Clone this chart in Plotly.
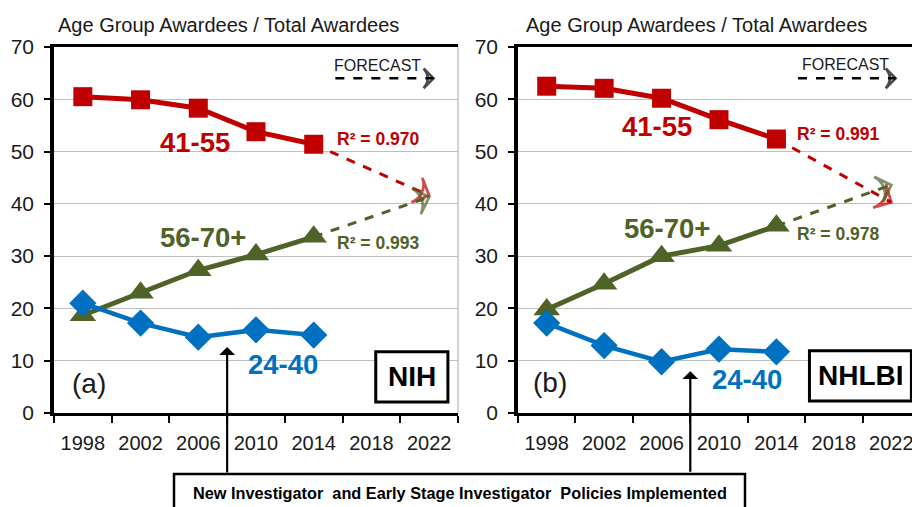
import plotly.graph_objects as go

# ---------------- data ----------------
years = [1998, 2002, 2006, 2010, 2014]
tick_years = [1998, 2002, 2006, 2010, 2014, 2018, 2022]
tick_labels = ["1998", "2002", "2006", "2010", "2014", "2018", "2022"]
boundary_years = [1996, 2000, 2004, 2008, 2012, 2016, 2020, 2024]

nih_41_55 = [60.5, 59.9, 58.3, 53.8, 51.4]
nih_56_70 = [18.7, 23.0, 27.3, 30.3, 33.7]
nih_24_40 = [21.0, 17.2, 14.5, 15.9, 14.9]

nhlbi_41_55 = [62.5, 62.1, 60.2, 56.1, 52.4]
nhlbi_56_70 = [19.8, 24.7, 30.0, 32.0, 35.8]
nhlbi_24_40 = [17.2, 12.9, 9.8, 12.2, 11.7]

forecast_years = [2014, 2022]
nih_41_55_forecast = [51.4, 41.6]
nih_56_70_forecast = [33.7, 41.3]
nhlbi_41_55_forecast = [52.4, 40.3]
nhlbi_56_70_forecast = [35.8, 43.6]

r2_nih = ["R² = 0.970", "R² = 0.993"]
r2_nhlbi = ["R² = 0.991", "R² = 0.978"]
policy_year = 2008

# ---------------- style ----------------
RED = "#C00000"
GREEN = "#4F6228"
BLUE = "#0070C0"
REG = "Liberation Sans, Arial, sans-serif"

# the page body has an 8px margin, so the figure starts at (8, 8)
W, H, OFF = 912, 499, 8


def PX(px):
    return (px - OFF) / W


def PY(py):
    return 1 - (py - OFF) / H


fig = go.Figure()


def add_panel(xa, ya, d41, d56, d24, f41, f56):
    for fc, col in ((f41, RED), (f56, GREEN)):
        fig.add_trace(go.Scatter(
            x=forecast_years, y=fc, xaxis=xa, yaxis=ya, mode="lines+markers",
            line=dict(color=col, width=3, dash="dash"),
            marker=dict(symbol=["circle", "arrow-wide-open"], size=[0, 19],
                        angleref="previous", color=col,
                        line=dict(color=col, width=2.8)),
            hoverinfo="skip"))
    fig.add_trace(go.Scatter(
        x=years, y=d41, xaxis=xa, yaxis=ya, mode="lines+markers",
        line=dict(color=RED, width=5),
        marker=dict(symbol="square", size=19, color=RED)))
    fig.add_trace(go.Scatter(
        x=years, y=d56, xaxis=xa, yaxis=ya, mode="lines+markers",
        line=dict(color=GREEN, width=5),
        marker=dict(symbol="triangle-up", size=23, color=GREEN)))
    fig.add_trace(go.Scatter(
        x=years, y=d24, xaxis=xa, yaxis=ya, mode="lines+markers",
        line=dict(color=BLUE, width=4.5),
        marker=dict(symbol="diamond", size=21, color=BLUE)))
    # FORECAST legend arrow
    fig.add_trace(go.Scatter(
        x=[2015.5, 2022.3], y=[64.0, 64.0], xaxis=xa, yaxis=ya,
        mode="lines+markers",
        line=dict(color="black", width=2.5, dash="dash"),
        marker=dict(symbol=["circle", "arrow-wide-open"], size=[0, 14],
                    angleref="previous", color="black",
                    line=dict(color="black", width=2.8)),
        hoverinfo="skip"))


add_panel("x", "y", nih_41_55, nih_56_70, nih_24_40,
          nih_41_55_forecast, nih_56_70_forecast)
add_panel("x2", "y2", nhlbi_41_55, nhlbi_56_70, nhlbi_24_40,
          nhlbi_41_55_forecast, nhlbi_56_70_forecast)

ydom = [PY(413), PY(47)]
xaxis_common = dict(
    range=[1996, 2024], tickmode="array", tickvals=tick_years,
    ticktext=tick_labels, ticks="", ticklabelstandoff=10, automargin=False,
    showgrid=False, zeroline=False,
    showline=True, linewidth=3, linecolor="black", mirror=True,
    tickfont=dict(family=REG, size=20, color="#1a1a1a"),
    minor=dict(tickmode="array", tickvals=boundary_years, ticks="outside",
               ticklen=7, tickwidth=2, tickcolor="black", showgrid=False),
    fixedrange=True)
yaxis_common = dict(
    range=[0, 70], tickmode="array", tickvals=[0, 10, 20, 30, 40, 50, 60, 70],
    ticks="outside", ticklen=6, tickwidth=2, tickcolor="black",
    ticklabelstandoff=6, automargin=False,
    showgrid=True, gridcolor="#BFBFBF", gridwidth=1, zeroline=False,
    showline=True, linewidth=3.5, linecolor="black",
    tickfont=dict(family=REG, size=21, color="#1a1a1a"), fixedrange=True)

fig.update_layout(
    width=W, height=H, margin=dict(l=0, r=0, t=0, b=0, autoexpand=False),
    paper_bgcolor="white", plot_bgcolor="white", showlegend=False,
    xaxis=dict(domain=[PX(54), PX(458)], anchor="y", **xaxis_common),
    yaxis=dict(domain=ydom, anchor="x", **yaxis_common),
    xaxis2=dict(domain=[PX(518), 1.0], anchor="y2", **xaxis_common),
    yaxis2=dict(domain=ydom, anchor="x2", **yaxis_common),
)

ann = []
shapes = []


def panel_text(xa, ya, title_px, lab41, lab56, lab24, r2, r2x, r2y, letter,
               letter_xy, name, box, name_xy, fc_xy, arrow_y, arrow_len):
    ann.append(dict(xref="paper", yref="paper", x=PX(title_px), y=PY(25),
                    text="Age Group Awardees / Total Awardees", showarrow=False,
                    font=dict(family=REG, size=20, color="#1a1a1a"),
                    xanchor="center", yanchor="middle"))
    for (t, xy, col) in (("41-55", lab41, RED), ("56-70+", lab56, GREEN),
                         ("24-40", lab24, BLUE)):
        ann.append(dict(xref=xa, yref=ya, x=xy[0], y=xy[1], text="<b>%s</b>" % t,
                        showarrow=False, font=dict(family=REG, size=27.5, color=col),
                        xanchor="center", yanchor="middle"))
    for t, yy, col in ((r2[0], r2y[0], RED), (r2[1], r2y[1], GREEN)):
        ann.append(dict(xref=xa, yref=ya, x=r2x, y=yy, text="<b>%s</b>" % t,
                        showarrow=False, font=dict(family=REG, size=17.5, color=col),
                        xanchor="left", yanchor="middle"))
    ann.append(dict(xref=xa, yref=ya, x=letter_xy[0], y=letter_xy[1], text=letter,
                    showarrow=False, font=dict(family=REG, size=28, color="#1a1a1a"),
                    xanchor="center", yanchor="middle"))
    ann.append(dict(xref=xa, yref=ya, x=fc_xy[0], y=fc_xy[1], text="FORECAST",
                    showarrow=False, font=dict(family=REG, size=16, color="#1a1a1a"),
                    xanchor="center", yanchor="middle"))
    ann.append(dict(xref=xa, yref=ya, x=name_xy[0], y=name_xy[1],
                    text="<b>%s</b>" % name, showarrow=False,
                    font=dict(family=REG, size=28, color="black"),
                    xanchor="center", yanchor="middle"))
    shapes.append(dict(type="rect", xref=xa, yref=ya, x0=box[0], x1=box[1],
                       y0=box[2], y1=box[3], line=dict(color="black", width=3),
                       fillcolor="white", layer="above"))
    ann.append(dict(xref=xa, yref=ya, x=policy_year, y=arrow_y, text="",
                    showarrow=True, ax=0, ay=arrow_len, arrowhead=1,
                    arrowsize=1.2, arrowwidth=2.2, arrowcolor="black"))


panel_text("x", "y", 228, (2005.8, 51.8), (2006.3, 33.5), (2011.9, 9.2),
           r2_nih, 2015.5, (52.4, 32.5), "(a)", (1998.4, 5.7), "NIH",
           (2018.3, 2023.3, 2.1, 11.7), (2020.8, 6.9), (2018.4, 66.5),
           12.6, 127)
panel_text("x2", "y2", 696, (2005.7, 54.7), (2006.4, 35.2), (2011.95, 6.5),
           r2_nhlbi, 2015.3, (53.4, 34.2), "(b)", (1998.2, 5.9), "NHLBI",
           (2016.3, 2023.4, 2.3, 11.9), (2019.9, 7.1), (2018.8, 66.7),
           8.0, 102)

# right border of the left panel (thin gray)
shapes.append(dict(type="line", xref="x domain", yref="y domain", x0=1, x1=1,
                   y0=0, y1=1, line=dict(color="#A6A6A6", width=1)))

# bottom policy box
shapes.append(dict(type="rect", xref="paper", yref="paper", x0=PX(174),
                   x1=PX(745), y0=-0.1, y1=PY(474),
                   line=dict(color="black", width=2.5), fillcolor="white"))
ann.append(dict(xref="paper", yref="paper", x=PX(459.5), y=PY(493),
                text="<b>New Investigator  and Early Stage Investigator  Policies Implemented</b>",
                showarrow=False, font=dict(family=REG, size=16.3, color="black"),
                xanchor="center", yanchor="middle"))

fig.update_layout(annotations=ann, shapes=shapes)
fig.write_html("out.html")
